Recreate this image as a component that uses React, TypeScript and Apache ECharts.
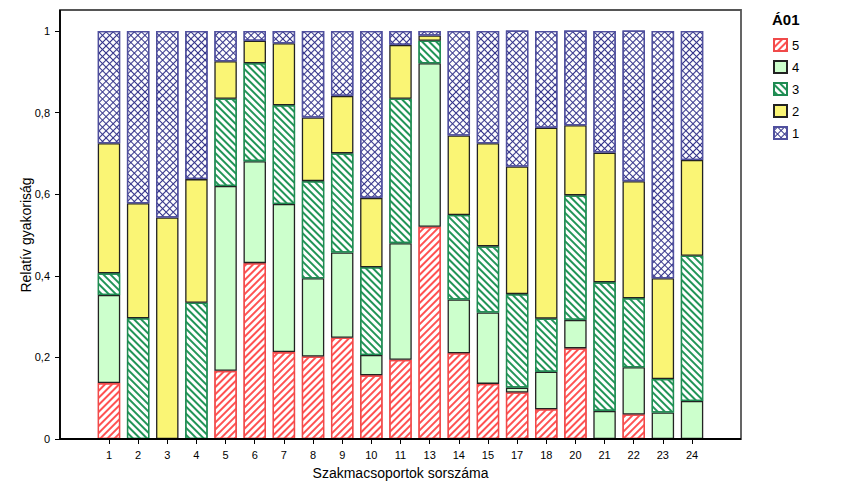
import React, { useEffect, useRef } from 'react';
import * as echarts from 'echarts';

const categories = ['1', '2', '3', '4', '5', '6', '7', '8', '9', '10', '11', '13', '14', '15', '17', '18', '20', '21', '22', '23', '24'];
const share5 = [0.137, 0, 0, 0, 0.167, 0.431, 0.213, 0.202, 0.248, 0.156, 0.194, 0.520, 0.210, 0.135, 0.114, 0.073, 0.222, 0, 0.060, 0, 0];
const share4 = [0.216, 0, 0, 0, 0.453, 0.250, 0.363, 0.192, 0.209, 0.050, 0.286, 0.401, 0.132, 0.175, 0.012, 0.092, 0.070, 0.069, 0.116, 0.065, 0.093];
const share3 = [0.053, 0.296, 0, 0.334, 0.214, 0.240, 0.242, 0.238, 0.243, 0.215, 0.354, 0.055, 0.207, 0.162, 0.229, 0.130, 0.305, 0.315, 0.169, 0.082, 0.356];
const share2 = [0.319, 0.282, 0.543, 0.303, 0.092, 0.055, 0.152, 0.156, 0.141, 0.170, 0.132, 0.013, 0.195, 0.253, 0.313, 0.468, 0.172, 0.318, 0.287, 0.247, 0.235];
const share1 = [0.275, 0.422, 0.457, 0.363, 0.074, 0.024, 0.030, 0.212, 0.159, 0.409, 0.034, 0.011, 0.256, 0.275, 0.333, 0.237, 0.232, 0.298, 0.369, 0.606, 0.316];
const legendItems = ['5', '4', '3', '2', '1'];

export default function App() {
  const ref = useRef<HTMLDivElement>(null);
  useEffect(() => {
    const chart = echarts.init(ref.current!, null, { renderer: 'svg' });
    const font = '"Liberation Sans", Arial, sans-serif';
    const toData = (arr: number[]) => arr.map((v) => (v === 0 ? null : v));
    const mk = (name: string, arr: number[], itemStyle: any) => ({
      type: 'bar',
      name,
      stack: 'total',
      data: toData(arr),
      barCategoryGap: '23%',
      xAxisIndex: 0,
      yAxisIndex: 0,
      itemStyle,
      emphasis: { disabled: true },
    });
    chart.setOption({
      animation: false,
      backgroundColor: '#ffffff',
      textStyle: { fontFamily: font },
      title: {
        text: 'Á01',
        left: 772,
        top: 12,
        padding: 0,
        textStyle: { fontSize: 15, fontWeight: 'bold', color: '#000', fontFamily: font },
      },
      legend: {
        data: legendItems,
        orient: 'vertical',
        left: 773,
        top: 38,
        padding: 0,
        itemWidth: 13,
        itemHeight: 12,
        itemGap: 8,
        icon: 'rect',
        selectedMode: false,
        textStyle: { fontSize: 13, color: '#000', fontFamily: font },
      },
      grid: [
        { left: 94.4, right: 143.4, top: 31, bottom: 60 },
        { left: 60, right: 109, top: 31, bottom: 60 },
      ],
      xAxis: [
        {
          type: 'category',
          gridIndex: 0,
          data: categories,
          axisLine: { show: false },
          axisTick: { show: true, alignWithLabel: true, length: 5, lineStyle: { color: '#000', width: 1 } },
          axisLabel: { fontSize: 11, color: '#000', margin: 10, fontFamily: font },
          name: 'Szakmacsoportok sorszáma',
          nameLocation: 'middle',
          nameGap: 27,
          nameTextStyle: { fontSize: 14, color: '#000', fontFamily: font },
        },
        { type: 'value', gridIndex: 1, show: false },
      ],
      yAxis: [
        { type: 'value', gridIndex: 0, min: 0, max: 1, show: false },
        {
          type: 'value',
          gridIndex: 1,
          min: 0,
          max: 1,
          interval: 0.2,
          axisLine: { show: false },
          axisTick: { show: true, length: 5, lineStyle: { color: '#000', width: 1 } },
          axisLabel: {
            fontSize: 11,
            color: '#000',
            margin: 10,
            fontFamily: font,
            formatter: (v: number) => String(v).replace('.', ','),
          },
          splitLine: { show: false },
          name: 'Relatív gyakoriság',
          nameLocation: 'middle',
          nameGap: 27,
          nameMoveOverlap: false,
          nameTextStyle: { fontSize: 14, color: '#000', fontFamily: font },
        },
      ],
      graphic: [
        {
          type: 'rect',
          shape: { x: 60, y: 10, width: 681, height: 429 },
          style: { fill: 'none', stroke: '#555', lineWidth: 1.8 },
          silent: true,
          z: 10,
        },
        {
          type: 'polyline',
          shape: { points: [[60, 10], [60, 439], [741, 439]] },
          style: { fill: 'none', stroke: '#000', lineWidth: 1.8 },
          silent: true,
          z: 11,
        },
      ],
      series: [
        mk('5', share5, {
          color: '#ffffff',
          borderColor: '#f04a4a',
          borderWidth: 1.3,
          decal: {
            symbol: 'rect',
            symbolSize: 1,
            color: '#ff5252',
            dashArrayX: [1, 0],
            dashArrayY: [1.3, 2.7],
            rotation: -Math.PI / 4,
          },
        }),
        mk('4', share4, {
          color: '#ccffcc',
          borderColor: '#222',
          borderWidth: 1.3,
        }),
        mk('3', share3, {
          color: '#ffffff',
          borderColor: '#1f8b52',
          borderWidth: 1.3,
          decal: {
            symbol: 'rect',
            symbolSize: 1,
            color: '#229558',
            dashArrayX: [1, 0],
            dashArrayY: [1.3, 2.7],
            rotation: Math.PI / 4,
          },
        }),
        mk('2', share2, {
          color: '#faf575',
          borderColor: '#222',
          borderWidth: 1.3,
        }),
        mk('1', share1, {
          color: '#ffffff',
          borderColor: '#50509e',
          borderWidth: 1.3,
          decal: {
            symbol: 'path://M0,3.9H10V6.1H0Z M3.9,0H6.1V10H3.9Z',
            symbolSize: 1,
            symbolKeepAspect: false,
            color: '#34348a',
            dashArrayX: [5, 0],
            dashArrayY: [5, 0],
            rotation: Math.PI / 4,
          },
        }),
      ],
    });
    return () => chart.dispose();
  }, []);
  return <div ref={ref} style={{ position: 'absolute', left: 0, top: 0, width: 850, height: 499 }} />;
}
